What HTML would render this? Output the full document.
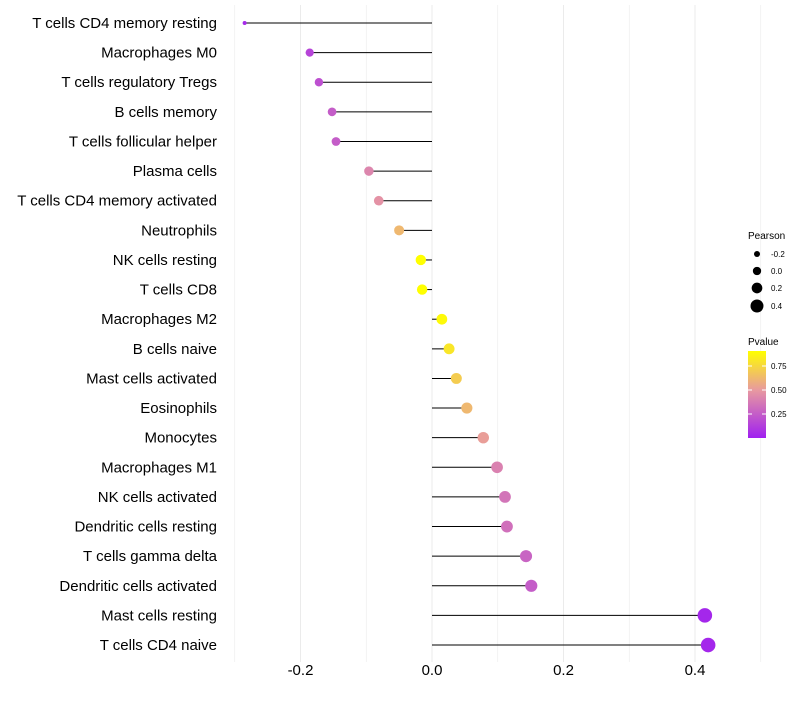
<!DOCTYPE html>
<html><head><meta charset="utf-8"><style>
body{margin:0;background:#fff;font-family:"Liberation Sans",sans-serif}
svg text{font-family:"Liberation Sans",sans-serif}
</style></head><body>
<svg id="chart" width="800" height="700" xmlns="http://www.w3.org/2000/svg">
<defs><linearGradient id="pg" x1="0" y1="1" x2="0" y2="0">
<stop offset="0" stop-color="#a020f0"/><stop offset="0.55" stop-color="#e899a0"/><stop offset="1" stop-color="#ffff00"/>
</linearGradient></defs>
<g id="grid"></g><g id="marks"></g><g id="labels"></g><g id="xticks"></g>
<g>
<text x="748" y="239" font-size="10">Pearson</text>
<g id="sizeleg"></g>
</g>
<g>
<text x="748" y="345" font-size="10">Pvalue</text>
<rect x="748" y="351" width="18" height="87" fill="url(#pg)"/>
<g id="colleg"></g>
</g>
</svg>
<script>
const categories=["T cells CD4 memory resting","Macrophages M0","T cells regulatory  Tregs ","B cells memory","T cells follicular helper","Plasma cells","T cells CD4 memory activated","Neutrophils","NK cells resting","T cells CD8","Macrophages M2","B cells naive","Mast cells activated","Eosinophils","Monocytes","Macrophages M1","NK cells activated","Dendritic cells resting","T cells gamma delta","Dendritic cells activated","Mast cells resting","T cells CD4 naive"];
const pearson=[-0.285,-0.186,-0.172,-0.152,-0.146,-0.096,-0.081,-0.050,-0.017,-0.015,0.015,0.026,0.037,0.053,0.078,0.099,0.111,0.114,0.143,0.151,0.415,0.420];
const pvalues=[0.04,0.15,0.2,0.25,0.25,0.42,0.47,0.62,0.9,0.9,0.88,0.8,0.7,0.62,0.52,0.4,0.35,0.33,0.28,0.25,0.03,0.03];
const xTicks=[-0.2,0,0.2,0.4];
const xTickLabels=["-0.2","0.0","0.2","0.4"];
const sizeLegend=[-0.2,0,0.2,0.4];
const colorLegend=[0.25,0.5,0.75];
const NS="http://www.w3.org/2000/svg";
const x=v=>432+v*657.5, y=i=>23+i*29.62;
const r=v=>v<-0.25?2:Math.sqrt(Math.max(4,25+60*(v+0.05)));
const rl=v=>3+(v+0.2)*5.83;
const py=p=>438-p*96;
function col(p){const s=[[0,[160,32,240]],[0.5,[232,153,160]],[0.9,[255,255,0]]];
 if(p>=0.9)return "rgb(255,255,0)";let a=s[0],b=s[1];if(p>0.5){a=s[1];b=s[2];}
 const t=(p-a[0])/(b[0]-a[0]);return "rgb("+a[1].map((c,k)=>Math.round(c+(b[1][k]-c)*t)).join(",")+")";}
function el(t,at,par){const e=document.createElementNS(NS,t);for(const k in at)e.setAttribute(k,at[k]);document.getElementById(par).appendChild(e);return e;}
for(let v=-0.3;v<=0.51;v+=0.1){const g=el("line",{x1:x(v),x2:x(v),y1:5,y2:662,stroke:"#ebebeb","stroke-width":Math.abs(Math.round(v*10))%2==0?1:0.6},"grid");

}
categories.forEach((c,i)=>{
 const l=el("line",{x1:x(0),x2:x(pearson[i]),y1:y(i),y2:y(i),stroke:"#000","stroke-width":1},"marks");
 
 
 const d=el("circle",{cx:x(pearson[i]),cy:y(i),r:r(pearson[i]),fill:col(pvalues[i])},"marks");
 
 
 const t=el("text",{x:217,y:y(i)+5,"text-anchor":"end","font-size":15,fill:"#000"},"labels");t.textContent=c;
 
 
});
xTicks.forEach((v,i)=>{const t=el("text",{x:x(v),y:675,"text-anchor":"middle","font-size":15,fill:"#000"},"xticks");t.textContent=xTickLabels[i];

});
sizeLegend.forEach((v,i)=>{const yy=[254,271,288,306][i];
 const c=el("circle",{cx:757,cy:yy,r:rl(v)},"sizeleg");
 
 
 const t=el("text",{x:771,y:yy+3,"font-size":8},"sizeleg");t.textContent=(v==0?"0.0":v.toFixed(1));
 
 });
colorLegend.forEach(p=>{const t=el("text",{x:771,y:py(p)+3,"font-size":8},"colleg");t.textContent=p.toFixed(2);
 
 
 el("line",{x1:748,x2:752,y1:py(p),y2:py(p),stroke:"#fff"},"colleg");el("line",{x1:762,x2:766,y1:py(p),y2:py(p),stroke:"#fff"},"colleg");});
</script>
</body></html>
